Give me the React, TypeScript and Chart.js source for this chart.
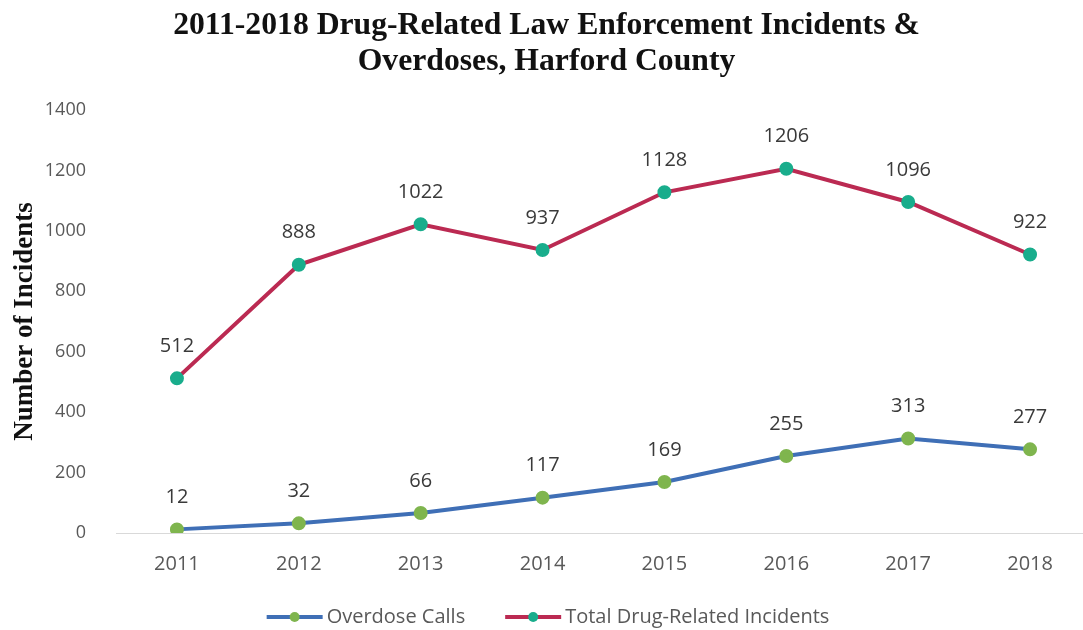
import React, { useEffect, useRef } from "react";
import { Chart, registerables } from "chart.js";

Chart.register(...registerables);

const years = ["2011", "2012", "2013", "2014", "2015", "2016", "2017", "2018"];
const overdoseCalls = [12, 32, 66, 117, 169, 255, 313, 277];
const totalIncidents = [512, 888, 1022, 937, 1128, 1206, 1096, 922];
const titleLines = ["2011-2018 Drug-Related Law Enforcement Incidents &", "Overdoses, Harford County"];
const yAxisTitle = "Number of Incidents";
const seriesNames = ["Overdose Calls", "Total Drug-Related Incidents"];

const BLUE = "#3f6fb6";
const BLUE_MARK = "#7fb54e";
const RED = "#bb2a52";
const RED_MARK = "#19ad8c";

const dataLabels = {
  id: "dataLabels",
  afterDatasetsDraw(chart: any) {
    const ctx = chart.ctx;
    ctx.save();
    ctx.font = "20px 'Open Sans'";
    ctx.fillStyle = "#3a3a3a";
    ctx.textAlign = "center";
    ctx.textBaseline = "middle";
    chart.data.datasets.forEach((ds: any, i: number) => {
      const meta = chart.getDatasetMeta(i);
      meta.data.forEach((pt: any, j: number) => {
        ctx.fillText(String(ds.data[j]), pt.x, pt.y - 32);
      });
    });
    ctx.restore();
  },
};

const customLegend = {
  id: "customLegend",
  afterDraw(chart: any) {
    const ctx = chart.ctx;
    ctx.save();
    ctx.font = "20px 'Open Sans'";
    ctx.textBaseline = "middle";
    ctx.textAlign = "left";
    const y = 617;
    const iconW = 56;
    const gapIconText = 4;
    const gapItems = 40;
    const items = chart.data.datasets.map((ds: any) => ({
      ds,
      w: iconW + gapIconText + ctx.measureText(ds.label).width,
    }));
    const total = items.reduce((a: number, it: any) => a + it.w, 0) + gapItems * (items.length - 1);
    let x = 548 - total / 2;
    items.forEach((it: any) => {
      ctx.strokeStyle = it.ds.borderColor;
      ctx.lineWidth = 4;
      ctx.beginPath();
      ctx.moveTo(x, y);
      ctx.lineTo(x + iconW, y);
      ctx.stroke();
      ctx.fillStyle = it.ds.pointBackgroundColor;
      ctx.beginPath();
      ctx.arc(x + iconW / 2, y, 5, 0, Math.PI * 2);
      ctx.fill();
      ctx.fillStyle = "#595959";
      ctx.fillText(it.ds.label, x + iconW + gapIconText, y);
      x += it.w + gapItems;
    });
    ctx.restore();
  },
};

export default function App() {
  const ref = useRef<HTMLCanvasElement>(null);
  useEffect(() => {
    const chart = new Chart(ref.current!, {
      type: "line",
      data: {
        labels: years,
        datasets: [
          {
            label: seriesNames[0],
            data: overdoseCalls,
            borderColor: BLUE,
            backgroundColor: BLUE_MARK,
            pointBackgroundColor: BLUE_MARK,
            pointBorderColor: BLUE_MARK,
            borderWidth: 4,
            pointRadius: 5,
            tension: 0,
          },
          {
            label: seriesNames[1],
            data: totalIncidents,
            borderColor: RED,
            backgroundColor: RED_MARK,
            pointBackgroundColor: RED_MARK,
            pointBorderColor: RED_MARK,
            borderWidth: 4,
            pointRadius: 5,
            tension: 0,
          },
        ],
      },
      options: {
        animation: false,
        responsive: true,
        maintainAspectRatio: false,
        layout: { padding: { left: 0, right: 7, top: 0, bottom: 43 } },
        plugins: {
          title: {
            display: true,
            text: titleLines,
            font: { family: "'Liberation Serif'", size: 31.7, weight: "bold", lineHeight: 1.13 },
            color: "#111111",
            padding: { top: 8, bottom: 30.5 },
          },
          legend: { display: false },
          tooltip: { enabled: false },
        },
        scales: {
          x: {
            offset: true,
            grid: { display: false },
            border: { display: true, color: "#d9d9d9", width: 1 },
            ticks: {
              color: "#595959",
              font: { family: "'Open Sans'", size: 20 },
              padding: 11,
            },
          },
          y: {
            min: 0,
            max: 1400,
            grid: { display: false },
            border: { display: false },
            ticks: {
              stepSize: 200,
              color: "#595959",
              font: { family: "'Open Sans'", size: 18 },
              padding: 22,
              callback: (v: any) => String(v),
            },
            title: {
              display: true,
              text: yAxisTitle,
              color: "#111111",
              font: { family: "'Liberation Serif'", size: 27, weight: "bold", lineHeight: 1.2 },
              padding: { top: 9, bottom: 0 },
            },
            afterFit: (s: any) => {
              s.width = 116;
            },
          },
        },
      },
      plugins: [dataLabels, customLegend],
    });
    return () => chart.destroy();
  }, []);
  return (
    <div style={{ position: "absolute", left: 0, top: 0, width: 1083, height: 630, overflow: "hidden", background: "#fff" }}>
      <div style={{ width: 1100, height: 630 }}>
        <canvas ref={ref} />
      </div>
    </div>
  );
}
